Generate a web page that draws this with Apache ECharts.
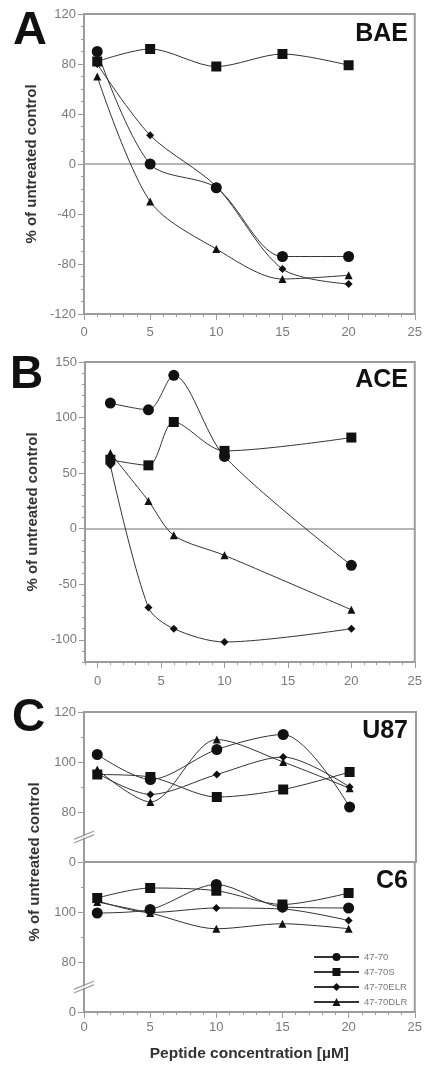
<!DOCTYPE html>
<html><head><meta charset="utf-8">
<script src="https://cdn.jsdelivr.net/npm/echarts@6/dist/echarts.min.js"></script>
<style>html,body{margin:0;padding:0;background:#fff}#c{width:425px;height:1067px}</style>
</head><body><div id="c"></div>
<script>
// ---------- data ----------
const seriesNames = ['47-70', '47-70S', '47-70ELR', '47-70DLR'];
const xTickLabels = [0, 5, 10, 15, 20, 25];

// Panel A (BAE)
const xA = [1, 5, 10, 15, 20];
const A_4770    = [90, 0, -19, -74, -74];
const A_4770S   = [82, 92, 78, 88, 79];
const A_4770ELR = [80, 23, -18, -84, -96];
const A_4770DLR = [70, -30, -68, -92, -89];
const yTicksA = [-120, -80, -40, 0, 40, 80, 120];

// Panel B (ACE)
const xB = [1, 4, 6, 10, 20];
const B_4770    = [113, 107, 138, 65, -33];
const B_4770S   = [62, 57, 96, 70, 82];
const B_4770ELR = [57, -71, -90, -102, -90];
const B_4770DLR = [68, 25, -6, -24, -73];
const yTicksB = [-100, -50, 0, 50, 100, 150];

// Panel C (U87 upper, C6 lower) — broken axis: 60 on the scale is labelled "0"
const xC = [1, 5, 10, 15, 20];
const U87_4770    = [103, 93, 105, 111, 82];
const U87_4770S   = [95, 94, 86, 89, 96];
const U87_4770ELR = [95.5, 87, 95, 102, 90];
const U87_4770DLR = [97, 84, 109, 100, 89.5];
const C6_4770     = [99.6, 101, 111, 102, 101.6];
const C6_4770S    = [105.6, 109.6, 108.5, 103, 107.6];
const C6_4770ELR  = [104.5, 99.8, 101.6, 101.2, 96.6];
const C6_4770DLR  = [104, 99.6, 93.3, 95.3, 93.3];
const yTicksCupper = [60, 80, 100, 120];
const yTicksClower = [60, 80, 100];
const axisBreakAt = 70;

// ---------- styling ----------
const AX = '#9c9c9c';
const FONT = '"Liberation Sans", Arial, sans-serif';
const symbols = ['circle', 'rect', 'diamond', 'triangle'];
const symbolSizes = [11, 10, 8, 8];

const grids = [
  {left: 84, top: 14, width: 332, height: 300},   // A
  {left: 85, top: 362, width: 331, height: 300},  // B
  {left: 84, top: 712, width: 332, height: 150},  // C upper
  {left: 84, top: 862, width: 332, height: 150},  // C lower
  {left: 84, top: 712, width: 332, height: 300}   // C title holder
].map((g, i) => Object.assign({show: i < 4, borderColor: AX, borderWidth: 2, containLabel: false}, g));

const xAxes = [], yAxes = [];
function addPair(list, pos, gridIndex, min, max, minorStep, majorVals, labelVals, opt) {
  opt = opt || {};
  const idx = list.length;
  list.push({
    type: 'value', gridIndex, min, max, interval: minorStep, position: pos,
    axisLine: {show: true, onZero: false, lineStyle: {color: AX, width: 2}},
    axisTick: {show: !opt.noTicks, length: 3, lineStyle: {color: AX, width: 1}},
    axisLabel: {show: labelVals.length > 0, customValues: labelVals, color: '#7a7a7a',
      fontSize: 13, fontFamily: FONT, margin: opt.margin || 8, formatter: opt.formatter},
    splitLine: {show: false},
    name: opt.name || '', nameLocation: 'middle', nameGap: opt.nameGap || 40,
    nameTextStyle: {fontWeight: 'bold', fontSize: opt.nameSize || 15, color: '#333', fontFamily: FONT}
  });
  list.push({
    type: 'value', gridIndex, min, max, interval: minorStep, position: pos,
    axisLine: {show: false, onZero: false},
    axisTick: {show: !opt.noTicks, length: 6, customValues: majorVals, lineStyle: {color: AX, width: 1}},
    axisLabel: {show: false}, splitLine: {show: false}
  });
  return idx;
}
const yName = '% of untreated control';
const cFmt = v => (v === 60 ? '0' : String(v));

const xiA = addPair(xAxes, 'bottom', 0, 0, 25, 1, xTickLabels, xTickLabels, {margin: 12});
const yiA = addPair(yAxes, 'left', 0, -120, 120, 10, yTicksA, yTicksA, {name: yName, nameGap: 42});
const xiB = addPair(xAxes, 'bottom', 1, -1, 25, 1, xTickLabels, xTickLabels, {margin: 13});
const yiB = addPair(yAxes, 'left', 1, -120, 150, 10, yTicksB, yTicksB, {name: yName, nameGap: 42});
const xiC1 = addPair(xAxes, 'bottom', 2, 0, 25, 1, [], [], {noTicks: true});
const yiC1 = addPair(yAxes, 'left', 2, 60, 120, 10, yTicksCupper, yTicksCupper, {formatter: cFmt});
const xiC2 = addPair(xAxes, 'bottom', 3, 0, 25, 1, xTickLabels, xTickLabels,
  {margin: 9, name: 'Peptide concentration [µM]', nameGap: 34, nameSize: 15.5});
const yiC2 = addPair(yAxes, 'left', 3, 60, 120, 10, yTicksClower, yTicksClower, {formatter: cFmt});
// holder axes for the shared title of panel C
xAxes.push({type: 'value', gridIndex: 4, show: false, min: 0, max: 25});
yAxes.push({type: 'value', gridIndex: 4, min: 0, max: 1, position: 'left',
  axisLine: {show: false}, axisTick: {show: false}, axisLabel: {show: false}, splitLine: {show: false},
  name: yName, nameLocation: 'middle', nameGap: 42,
  nameTextStyle: {fontWeight: 'bold', fontSize: 15, color: '#333', fontFamily: FONT}});

const series = [];
function addPanel(xi, yi, xs, arrs, zeroLine) {
  arrs.forEach((arr, k) => {
    const s = {
      type: 'line', name: seriesNames[k], xAxisIndex: xi, yAxisIndex: yi,
      data: xs.map((x, j) => [x, arr[j]]),
      smooth: 0.3, symbol: symbols[k], symbolSize: symbolSizes[k], showSymbol: true,
      lineStyle: {color: '#333', width: 1}, itemStyle: {color: '#111'},
      emphasis: {disabled: true}, z: 3
    };
    if (zeroLine && k === 0) {
      s.markLine = {silent: true, symbol: ['none', 'none'], label: {show: false},
        lineStyle: {color: AX, width: 1.5, type: 'solid'}, data: [{yAxis: 0}], z: 1};
    }
    series.push(s);
  });
}
addPanel(xiA, yiA, xA, [A_4770, A_4770S, A_4770ELR, A_4770DLR], true);
addPanel(xiB, yiB, xB, [B_4770, B_4770S, B_4770ELR, B_4770DLR], true);
addPanel(xiC1, yiC1, xC, [U87_4770, U87_4770S, U87_4770ELR, U87_4770DLR], false);
addPanel(xiC2, yiC2, xC, [C6_4770, C6_4770S, C6_4770ELR, C6_4770DLR], false);

// axis-break marks
[[xiC1, yiC1], [xiC2, yiC2]].forEach(([xi, yi]) => {
  series.push({type: 'scatter', xAxisIndex: xi, yAxisIndex: yi, silent: true, z: 4,
    data: [[0, axisBreakAt]], symbol: 'path://M0,10.5 L14,1.5 L14,4 L0,13 Z', symbolSize: [20, 12],
    itemStyle: {color: '#fff'}, clip: false});
  series.push({type: 'scatter', xAxisIndex: xi, yAxisIndex: yi, silent: true, z: 5,
    data: [[0, axisBreakAt]], symbol: 'path://M0,9 L14,0 L14,1.5 L0,10.5 Z M0,13 L14,4 L14,5.5 L0,14.5 Z',
    symbolSize: [20, 13], itemStyle: {color: '#8a8a8a'}, clip: false});
});

function txt(text, x, y, size, align) {
  return {type: 'text', x, y, silent: true, z: 10,
    style: {text, fontSize: size, fontWeight: 'bold', fontFamily: FONT, fill: '#111',
      align: align || 'left', verticalAlign: 'middle'}};
}

const option = {
  animation: false,
  backgroundColor: '#fff',
  grid: grids,
  xAxis: xAxes,
  yAxis: yAxes,
  series,
  legend: {data: seriesNames, orient: 'vertical', left: 308, top: 947, itemWidth: 45, itemHeight: 10,
    itemGap: 5, textStyle: {fontSize: 9.5, color: '#7a7a7a', fontFamily: FONT}, selectedMode: false},
  graphic: [
    txt('A', 13, 31, 47), txt('B', 10, 375, 46), txt('C', 12, 718, 46),
    txt('BAE', 408, 34, 25, 'right'), txt('ACE', 408, 380, 25, 'right'),
    txt('U87', 408, 731, 25, 'right'), txt('C6', 408, 881, 25, 'right')
  ]
};
const chart = echarts.init(document.getElementById('c'), null, {renderer: 'canvas'});
chart.setOption(option);
</script>
</body></html>
